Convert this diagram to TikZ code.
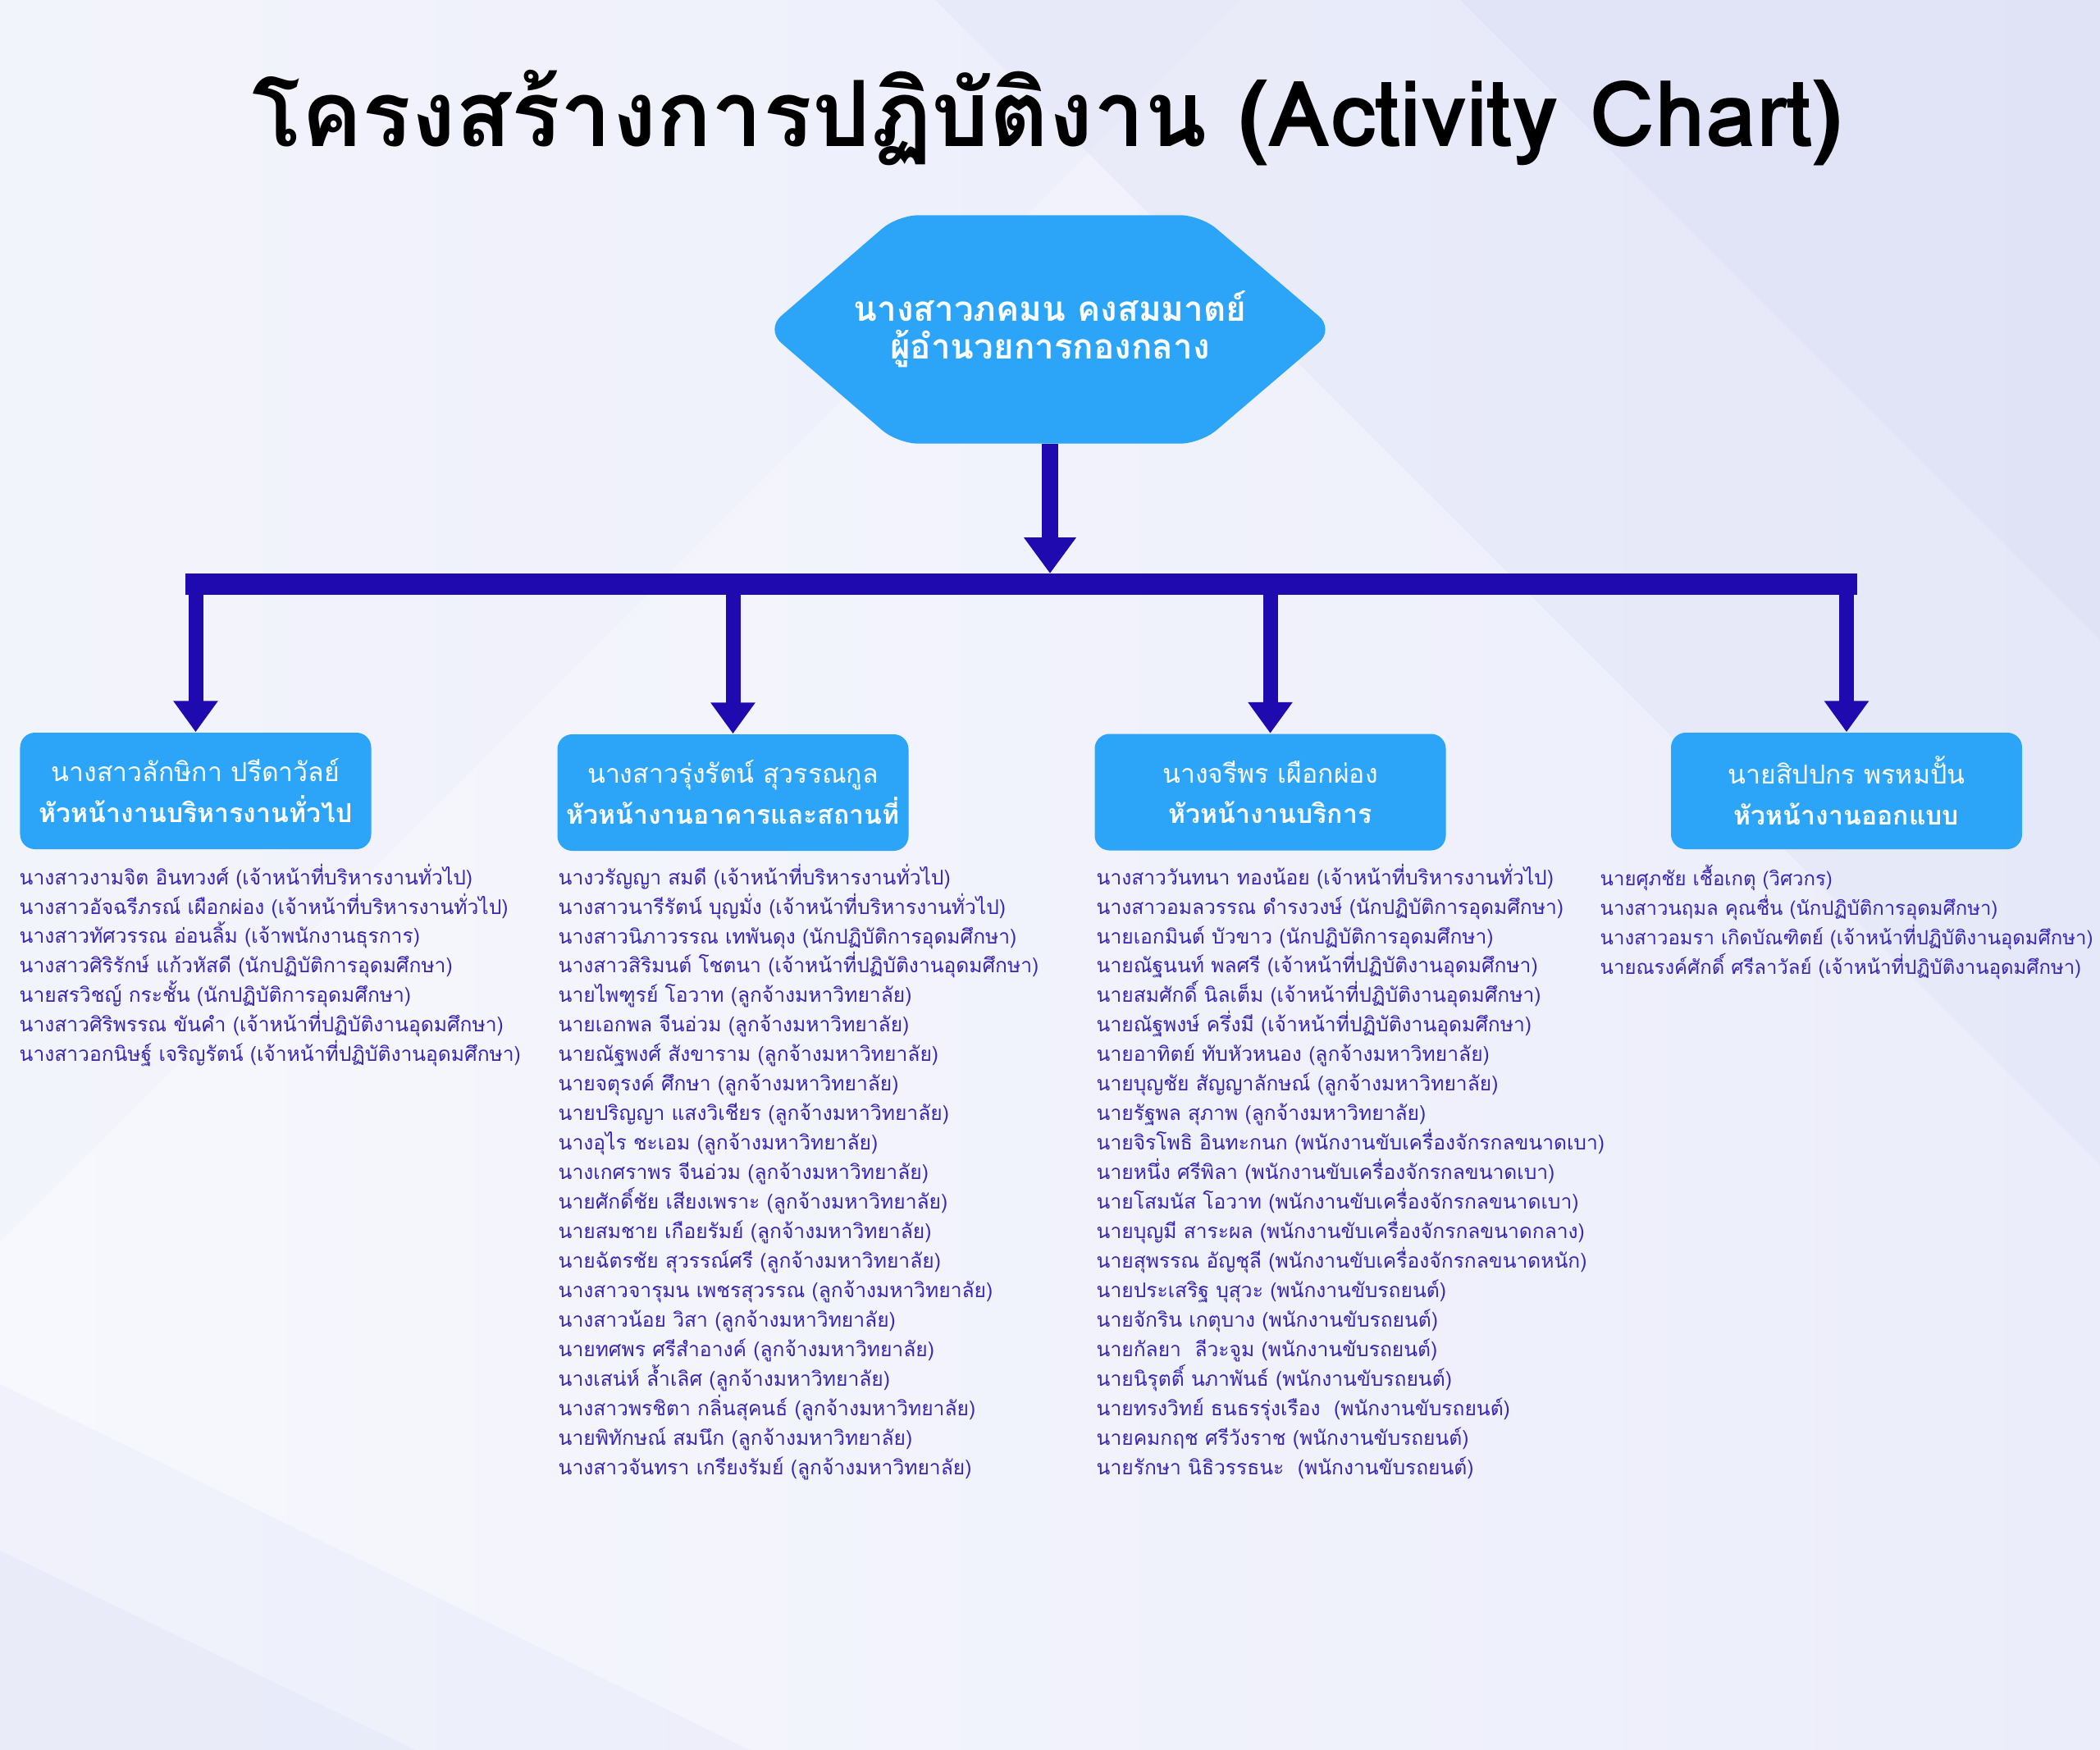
\documentclass[tikz,border=0pt]{standalone}
\usepackage{fontspec}
\setmainfont[Script=Thai]{Loma}
\usetikzlibrary{arrows.meta,backgrounds}

\definecolor{azulcaja}{HTML}{2CA5F8}
\definecolor{azulflecha}{HTML}{1E0AAF}
\definecolor{textolista}{HTML}{3B25B3}
\definecolor{fondoA}{HTML}{F7F8FD}
\definecolor{fondoB}{HTML}{EBEDFA}
\definecolor{lila}{HTML}{DCE0F6}

\newcommand{\renglonfijo}{\lineskiplimit-50pt\relax}

\tikzset{
	caja/.style={rectangle, rounded corners=0.18cm, fill=azulcaja, text=white, align=center, inner xsep=2pt, minimum width=4.28cm, minimum height=1.42cm, font=\fontsize{9.1}{14.2}\selectfont\renglonfijo},
	lista/.style={anchor=north west, align=left, inner sep=0pt, text=textolista, font=\fontsize{7}{10.24}\selectfont\renglonfijo},
	jefe/.style={rectangle, inner sep=0pt, text=white, align=center, minimum width=6.92cm, minimum height=2.77cm, font=\bfseries\fontsize{12}{13}\selectfont\renglonfijo},
	flecha/.style={draw=azulflecha, line width=0.18cm, -{Triangle[width=0.52cm,length=0.38cm]}},
	barra/.style={draw=azulflecha, line width=0.26cm, line cap=rect},
}

\begin{document}
\begin{tikzpicture}
		% Fondo
			\useasboundingbox (0,0) rectangle (25.6,-21.33);
			\begin{scope}[on background layer]
				\shade[left color=fondoA, right color=fondoB] (0,0) rectangle (25.6,-21.33);
				\fill[lila, opacity=0.35] (11.4,0) -- (25.6,0) -- (25.6,-14.2) -- cycle;
				\fill[lila, opacity=0.5] (17.8,0) -- (25.6,0) -- (25.6,-7.8) -- cycle;
				\fill[lila, opacity=0.15] (0,0) -- (15.14,0) -- (0,-15.14) -- cycle;
				\fill[lila, opacity=0.25] (0,-16.87) -- (9.14,-21.33) -- (0,-21.33) -- cycle;
				\fill[lila, opacity=0.3] (0,-18.9) -- (5.06,-21.33) -- (0,-21.33) -- cycle;
			\end{scope}
		% Titulo
			\node[anchor=base, font=\bfseries\fontsize{31.7}{36}\selectfont] (titulo) at (12.77,-1.78) {โครงสร้างการปฏิบัติงาน (Activity Chart)};
		% Directora
			\node[jefe] (jefe) at (12.80,-4.015) {นางสาวภคมน คงสมมาตย์\\ผู้อำนวยการกองกลาง};
			\begin{scope}[on background layer]
				\fill[azulcaja, rounded corners=0.25cm] (jefe.west) -- ([xshift=1.61cm]jefe.north west) -- ([xshift=-1.63cm]jefe.north east) -- (jefe.east) -- ([xshift=-1.63cm]jefe.south east) -- ([xshift=1.61cm]jefe.south west) -- cycle;
			\end{scope}
		% Jefes de sección
			\node[caja] (adm) at (2.385,-9.64) {นางสาวลักษิกา ปรีดาวัลย์\\\textbf{หัวหน้างานบริหารงานทั่วไป}};
			\node[caja] (edif) at (8.935,-9.66) {นางสาวรุ่งรัตน์ สุวรรณกูล\\\textbf{หัวหน้างานอาคารและสถานที่}};
			\node[caja] (serv) at (15.485,-9.655) {นางจรีพร เผือกผ่อง\\\textbf{หัวหน้างานบริการ}};
			\node[caja] (dis) at (22.51,-9.64) {นายสิปปกร พรหมปั้น\\\textbf{หัวหน้างานออกแบบ}};
		% Flechas
			\coordinate (cruce) at (12.80,-6.99);
			\coordinate (bus) at (12.80,-7.12);
			\draw[flecha, line width=0.2cm, -{Triangle[width=0.61cm,length=0.44cm]}] (jefe.south) -- (cruce);
			\draw[flecha] (adm.north |- bus) -- (adm.north);
			\draw[flecha] (edif.north |- bus) -- (edif.north);
			\draw[flecha] (serv.north |- bus) -- (serv.north);
			\draw[flecha] (dis.north |- bus) -- (dis.north);
			\draw[barra] (adm.north |- bus) -- (dis.north |- bus);
		% Personal
			% Bajo adm
				\node[lista] (listaAdm) at (0.23,-10.52) {นางสาวงามจิต อินทวงศ์ (เจ้าหน้าที่บริหารงานทั่วไป)\\
					นางสาวอัจฉรีภรณ์ เผือกผ่อง (เจ้าหน้าที่บริหารงานทั่วไป)\\
					นางสาวทัศวรรณ อ่อนลิ้ม (เจ้าพนักงานธุรการ)\\
					นางสาวศิริรักษ์ แก้วหัสดี (นักปฏิบัติการอุดมศึกษา)\\
					นายสรวิชญ์ กระชั้น (นักปฏิบัติการอุดมศึกษา)\\
					นางสาวศิริพรรณ ขันคำ (เจ้าหน้าที่ปฏิบัติงานอุดมศึกษา)\\
					นางสาวอกนิษฐ์ เจริญรัตน์ (เจ้าหน้าที่ปฏิบัติงานอุดมศึกษา)};
			% Bajo edif
				\node[lista] (listaEdif) at (6.80,-10.52) {นางวรัญญา สมดี (เจ้าหน้าที่บริหารงานทั่วไป)\\
					นางสาวนารีรัตน์ บุญมั่ง (เจ้าหน้าที่บริหารงานทั่วไป)\\
					นางสาวนิภาวรรณ เทพันดุง (นักปฏิบัติการอุดมศึกษา)\\
					นางสาวสิริมนต์ โชตนา (เจ้าหน้าที่ปฏิบัติงานอุดมศึกษา)\\
					นายไพฑูรย์ โอวาท (ลูกจ้างมหาวิทยาลัย)\\
					นายเอกพล จีนอ่วม (ลูกจ้างมหาวิทยาลัย)\\
					นายณัฐพงศ์ สังขาราม (ลูกจ้างมหาวิทยาลัย)\\
					นายจตุรงค์ ศึกษา (ลูกจ้างมหาวิทยาลัย)\\
					นายปริญญา แสงวิเชียร (ลูกจ้างมหาวิทยาลัย)\\
					นางอุไร ชะเอม (ลูกจ้างมหาวิทยาลัย)\\
					นางเกศราพร จีนอ่วม (ลูกจ้างมหาวิทยาลัย)\\
					นายศักดิ์ชัย เสียงเพราะ (ลูกจ้างมหาวิทยาลัย)\\
					นายสมชาย เกือยรัมย์ (ลูกจ้างมหาวิทยาลัย)\\
					นายฉัตรชัย สุวรรณ์ศรี (ลูกจ้างมหาวิทยาลัย)\\
					นางสาวจารุมน เพชรสุวรรณ (ลูกจ้างมหาวิทยาลัย)\\
					นางสาวน้อย วิสา (ลูกจ้างมหาวิทยาลัย)\\
					นายทศพร ศรีสำอางค์ (ลูกจ้างมหาวิทยาลัย)\\
					นางเสน่ห์ ล้ำเลิศ (ลูกจ้างมหาวิทยาลัย)\\
					นางสาวพรชิตา กลิ่นสุคนธ์ (ลูกจ้างมหาวิทยาลัย)\\
					นายพิทักษณ์ สมนึก (ลูกจ้างมหาวิทยาลัย)\\
					นางสาวจันทรา เกรียงรัมย์ (ลูกจ้างมหาวิทยาลัย)};
			% Bajo serv
				\node[lista] (listaServ) at (13.36,-10.52) {นางสาววันทนา ทองน้อย (เจ้าหน้าที่บริหารงานทั่วไป)\\
					นางสาวอมลวรรณ ดำรงวงษ์ (นักปฏิบัติการอุดมศึกษา)\\
					นายเอกมินต์ บัวขาว (นักปฏิบัติการอุดมศึกษา)\\
					นายณัฐนนท์ พลศรี (เจ้าหน้าที่ปฏิบัติงานอุดมศึกษา)\\
					นายสมศักดิ์ นิลเต็ม (เจ้าหน้าที่ปฏิบัติงานอุดมศึกษา)\\
					นายณัฐพงษ์ ครึ่งมี (เจ้าหน้าที่ปฏิบัติงานอุดมศึกษา)\\
					นายอาทิตย์ ทับหัวหนอง (ลูกจ้างมหาวิทยาลัย)\\
					นายบุญชัย สัญญาลักษณ์ (ลูกจ้างมหาวิทยาลัย)\\
					นายรัฐพล สุภาพ (ลูกจ้างมหาวิทยาลัย)\\
					นายจิรโพธิ อินทะกนก (พนักงานขับเครื่องจักรกลขนาดเบา)\\
					นายหนึ่ง ศรีพิลา (พนักงานขับเครื่องจักรกลขนาดเบา)\\
					นายโสมนัส โอวาท (พนักงานขับเครื่องจักรกลขนาดเบา)\\
					นายบุญมี สาระผล (พนักงานขับเครื่องจักรกลขนาดกลาง)\\
					นายสุพรรณ อัญชุลี (พนักงานขับเครื่องจักรกลขนาดหนัก)\\
					นายประเสริฐ บุสุวะ (พนักงานขับรถยนต์)\\
					นายจักริน เกตุบาง (พนักงานขับรถยนต์)\\
					นายกัลยา\ \ ลีวะจูม (พนักงานขับรถยนต์)\\
					นายนิรุตติ์ นภาพันธ์ (พนักงานขับรถยนต์)\\
					นายทรงวิทย์ ธนธรรุ่งเรือง\ \ (พนักงานขับรถยนต์)\\
					นายคมกฤช ศรีวังราช (พนักงานขับรถยนต์)\\
					นายรักษา นิธิวรรธนะ\ \ (พนักงานขับรถยนต์)};
			% Bajo dis
				\node[lista, font=\fontsize{6.8}{10.24}\selectfont\renglonfijo] (listaDis) at (19.50,-10.53) {นายศุภชัย เชื้อเกตุ (วิศวกร)\\
					นางสาวนฤมล คุณชื่น (นักปฏิบัติการอุดมศึกษา)\\
					นางสาวอมรา เกิดบัณฑิตย์ (เจ้าหน้าที่ปฏิบัติงานอุดมศึกษา)\\
					นายณรงค์ศักดิ์ ศรีลาวัลย์ (เจ้าหน้าที่ปฏิบัติงานอุดมศึกษา)};
	\end{tikzpicture}
\end{document}
